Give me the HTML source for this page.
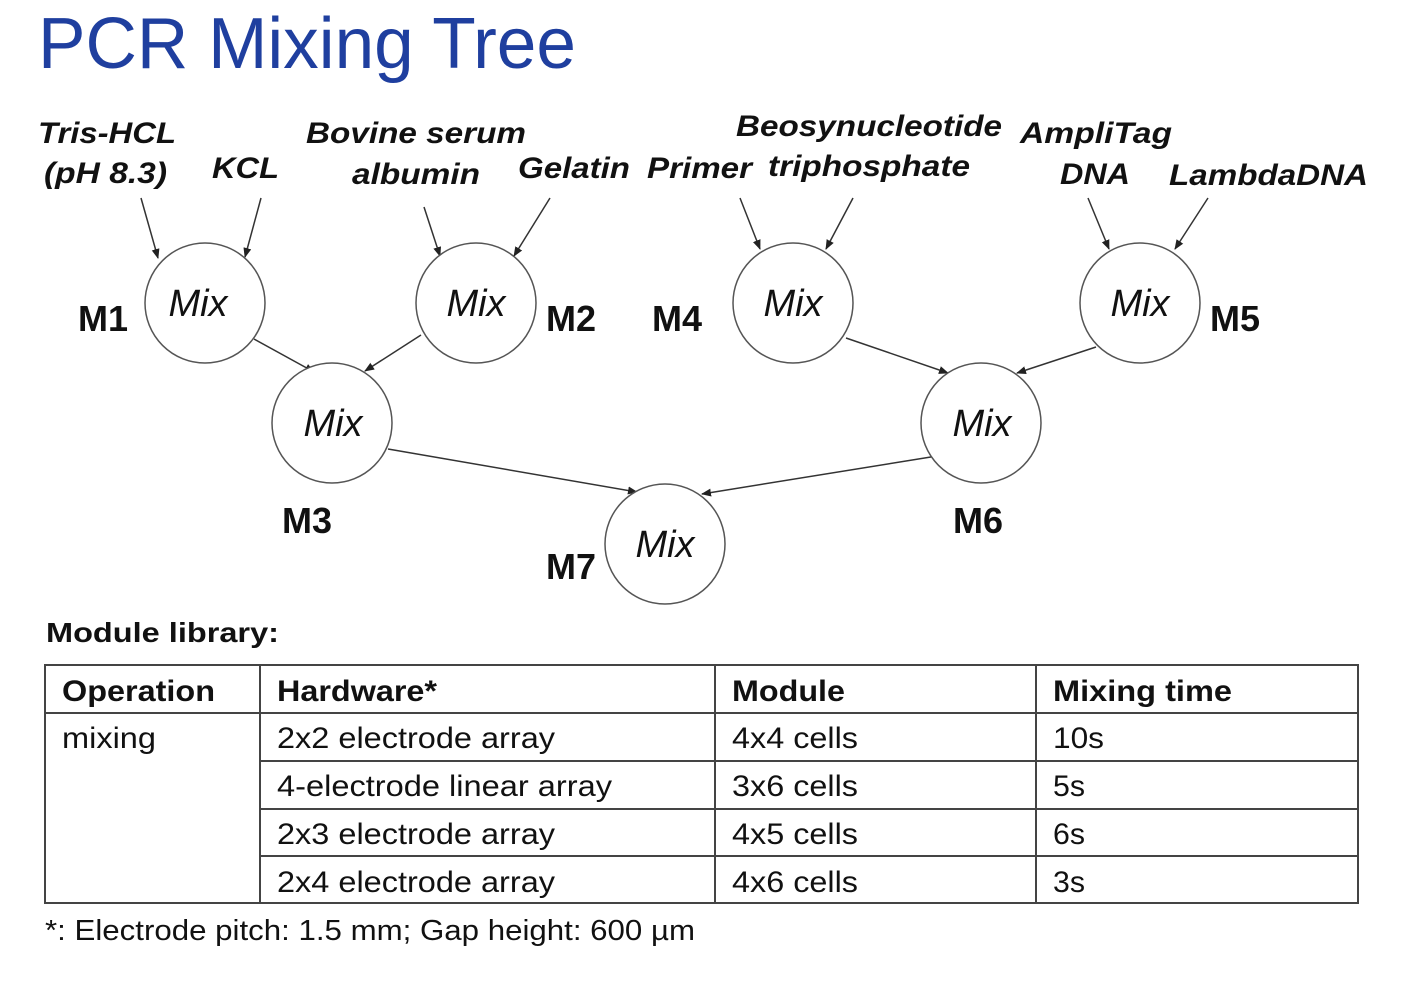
<!DOCTYPE html>
<html><head><meta charset="utf-8"><style>
html,body{margin:0;padding:0;background:#fff;width:1408px;height:1002px;overflow:hidden}
svg text{font-family:"Liberation Sans",Arial,sans-serif}
</style></head><body>
<svg width="1408" height="1002" viewBox="0 0 1408 1002" xmlns="http://www.w3.org/2000/svg">
<defs><marker id="a" markerWidth="10" markerHeight="10" refX="9" refY="5" orient="auto" markerUnits="userSpaceOnUse"><path d="M0,1 L10,5 L0,9 z" fill="#222"/></marker></defs>
<text x="38" y="68" font-size="72" fill="#1f3f9f" textLength="538" lengthAdjust="spacingAndGlyphs">PCR Mixing Tree</text>
<g font-size="30" font-weight="bold" font-style="italic" fill="#111">
<text x="38" y="143" textLength="138" lengthAdjust="spacingAndGlyphs">Tris-HCL</text>
<text x="44" y="183" textLength="123" lengthAdjust="spacingAndGlyphs">(pH 8.3)</text>
<text x="212" y="178" textLength="67" lengthAdjust="spacingAndGlyphs">KCL</text>
<text x="306" y="143" textLength="220" lengthAdjust="spacingAndGlyphs">Bovine serum</text>
<text x="352" y="184" textLength="128" lengthAdjust="spacingAndGlyphs">albumin</text>
<text x="518" y="178" textLength="112" lengthAdjust="spacingAndGlyphs">Gelatin</text>
<text x="647" y="178" textLength="105" lengthAdjust="spacingAndGlyphs">Primer</text>
<text x="736" y="136" textLength="266" lengthAdjust="spacingAndGlyphs">Beosynucleotide</text>
<text x="768" y="176" textLength="202" lengthAdjust="spacingAndGlyphs">triphosphate</text>
<text x="1020" y="143" textLength="152" lengthAdjust="spacingAndGlyphs">AmpliTag</text>
<text x="1060" y="184" textLength="70" lengthAdjust="spacingAndGlyphs">DNA</text>
<text x="1169" y="185" textLength="199" lengthAdjust="spacingAndGlyphs">LambdaDNA</text>
</g>
<g stroke="#333" stroke-width="1.5" fill="none" marker-end="url(#a)">
<line x1="141" y1="198" x2="158" y2="258"/>
<line x1="261" y1="198" x2="245" y2="257"/>
<line x1="424" y1="207" x2="440" y2="256"/>
<line x1="550" y1="198" x2="514" y2="256"/>
<line x1="740" y1="198" x2="760" y2="249"/>
<line x1="853" y1="198" x2="826" y2="249"/>
<line x1="1088" y1="198" x2="1109" y2="249"/>
<line x1="1208" y1="198" x2="1175" y2="249"/>
<line x1="254" y1="339" x2="314" y2="372"/>
<line x1="421" y1="335" x2="365" y2="371"/>
<line x1="846" y1="338" x2="948" y2="373"/>
<line x1="1096" y1="347" x2="1017" y2="373"/>
<line x1="388" y1="449" x2="637" y2="492"/>
<line x1="937" y1="456" x2="702" y2="494"/>
</g>
<g stroke="#555" stroke-width="1.5" fill="#fff">
<ellipse cx="205" cy="303" rx="60" ry="60"/>
<ellipse cx="476" cy="303" rx="60" ry="60"/>
<ellipse cx="332" cy="423" rx="60" ry="60"/>
<ellipse cx="793" cy="303" rx="60" ry="60"/>
<ellipse cx="1140" cy="303" rx="60" ry="60"/>
<ellipse cx="981" cy="423" rx="60" ry="60"/>
<ellipse cx="665" cy="544" rx="60" ry="60"/>
</g>
<g font-size="38" font-style="italic" fill="#111" text-anchor="middle">
<text x="198" y="316">Mix</text><text x="476" y="316">Mix</text><text x="333" y="436">Mix</text>
<text x="793" y="316">Mix</text><text x="1140" y="316">Mix</text><text x="982" y="436">Mix</text><text x="665" y="557">Mix</text>
</g>
<g font-size="36" font-weight="bold" fill="#111">
<text x="78" y="331">M1</text><text x="546" y="331">M2</text><text x="652" y="331">M4</text><text x="1210" y="331">M5</text>
<text x="282" y="533">M3</text><text x="953" y="533">M6</text><text x="546" y="579">M7</text>
</g>
<text x="46" y="642" font-size="28" font-weight="bold" fill="#111" textLength="233" lengthAdjust="spacingAndGlyphs">Module library:</text>
<g stroke="#444" stroke-width="2" fill="none">
<rect x="45" y="665" width="1313" height="238"/>
<line x1="45" y1="713" x2="1358" y2="713"/>
<line x1="260" y1="761" x2="1358" y2="761"/>
<line x1="260" y1="809" x2="1358" y2="809"/>
<line x1="260" y1="856" x2="1358" y2="856"/>
<line x1="260" y1="665" x2="260" y2="903"/>
<line x1="715" y1="665" x2="715" y2="903"/>
<line x1="1036" y1="665" x2="1036" y2="903"/>
</g>
<g font-size="30" fill="#111" lengthAdjust="spacingAndGlyphs">
<g font-weight="bold"><text x="62" y="701" textLength="153" lengthAdjust="spacingAndGlyphs">Operation</text><text x="277" y="701" textLength="160" lengthAdjust="spacingAndGlyphs">Hardware*</text><text x="732" y="701" textLength="113" lengthAdjust="spacingAndGlyphs">Module</text><text x="1053" y="701" textLength="179" lengthAdjust="spacingAndGlyphs">Mixing time</text></g>
<text x="62" y="748" textLength="94" lengthAdjust="spacingAndGlyphs">mixing</text>
<text x="277" y="748" textLength="278" lengthAdjust="spacingAndGlyphs">2x2 electrode array</text><text x="732" y="748" textLength="126" lengthAdjust="spacingAndGlyphs">4x4 cells</text><text x="1053" y="748" textLength="51" lengthAdjust="spacingAndGlyphs">10s</text>
<text x="277" y="796" textLength="335" lengthAdjust="spacingAndGlyphs">4-electrode linear array</text><text x="732" y="796" textLength="126" lengthAdjust="spacingAndGlyphs">3x6 cells</text><text x="1053" y="796" textLength="32" lengthAdjust="spacingAndGlyphs">5s</text>
<text x="277" y="844" textLength="278" lengthAdjust="spacingAndGlyphs">2x3 electrode array</text><text x="732" y="844" textLength="126" lengthAdjust="spacingAndGlyphs">4x5 cells</text><text x="1053" y="844" textLength="32" lengthAdjust="spacingAndGlyphs">6s</text>
<text x="277" y="892" textLength="278" lengthAdjust="spacingAndGlyphs">2x4 electrode array</text><text x="732" y="892" textLength="126" lengthAdjust="spacingAndGlyphs">4x6 cells</text><text x="1053" y="892" textLength="32" lengthAdjust="spacingAndGlyphs">3s</text>
<text x="45" y="940" font-size="29" textLength="650" lengthAdjust="spacingAndGlyphs">*: Electrode pitch: 1.5 mm; Gap height: 600 µm</text>
</g>
</svg>
</body></html>
